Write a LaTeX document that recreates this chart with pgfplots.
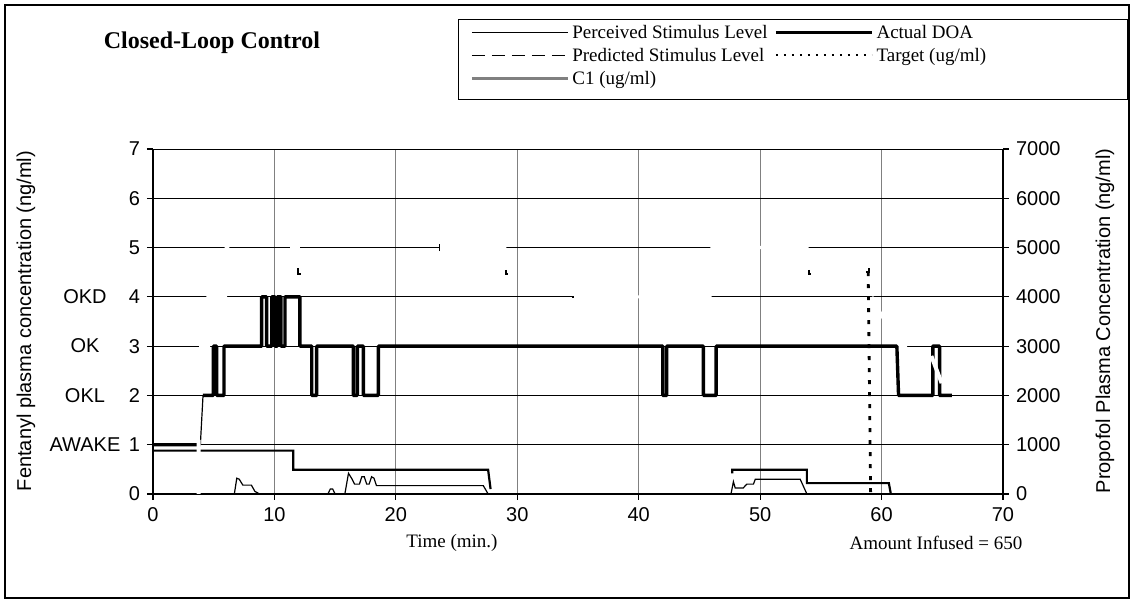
\documentclass[border=0pt]{standalone}
\usepackage{fontspec}
\setmainfont{Liberation Serif}
\newfontfamily\arial{Liberation Sans}
\usepackage{pgfplots}
\pgfplotsset{compat=1.18}

\definecolor{gridgray}{RGB}{128,128,128}

\begin{document}
\begin{tikzpicture}
% frame in image pixels (1px = 0.5pt), origin of axis at pixel (153,494)
\begin{scope}[x=0.5pt,y=-0.5pt,shift={(-76.5pt,247pt)}]
  \useasboundingbox (0,0) rectangle (1131,603);
\end{scope}

\begin{axis}[
  scale only axis, width=425pt, height=172.5pt,
  xmin=0, xmax=70, ymin=0, ymax=7,
  xtick={0,10,...,70}, ytick={0,1,...,7},
  axis x line*=bottom, axis y line*=left,
  x axis line style={-}, y axis line style={-},
  axis line style={black, line width=0.7pt},
  tick align=outside, major tick length=3pt,
  tick style={black, line width=0.6pt},
  xmajorgrids, ymajorgrids,
  x grid style={gridgray, line width=0.6pt},
  y grid style={black, line width=0.5pt},
  ticklabel style={font=\arial\fontsize{10}{12}\selectfont},
  /pgf/number format/assume math mode=true,
  unbounded coords=jump,
  legend columns=2, legend cell align=left,
  legend image code/.code={\draw[#1] (0pt,0.5pt) -- (48pt,0.5pt);},
  legend style={draw=none, fill=none, at={(0.3729,1.3623)}, anchor=north west,
    font=\fontsize{9.5}{11}\selectfont, inner sep=0pt, row sep=2.5pt,
    nodes={inner sep=0pt, text height=7pt, text depth=2pt},
    /tikz/every odd column/.append style={column sep=1.5pt}},
]
\addlegendimage{black, line width=0.6pt}
\addlegendentry{\makebox[101pt][l]{Perceived Stimulus Level}}
\addlegendimage{black, line width=1.6pt}
\addlegendentry{Actual DOA}
\addlegendimage{black, line width=0.8pt, dash pattern=on 6.5pt off 3.5pt}
\addlegendentry{\makebox[101pt][l]{Predicted Stimulus Level}}
\addlegendimage{black, line width=1pt, dash pattern=on 1.2pt off 2.8pt}
\addlegendentry{Target (ug/ml)}
\addlegendimage{gridgray, line width=1.5pt}
\addlegendentry{\makebox[101pt][l]{C1 (ug/ml)}}

% white traces that break the grid lines
\addplot[white, line width=1.6pt, forget plot] coordinates {
  (3.8,3) (4.7,3) (4.7,nan)
  (4.4,4) (6.1,4) (6.1,nan)
  (5.9,5) (6.3,5) (6.3,nan)
  (11.3,5) (12.1,5) (12.1,nan)
  (23.65,5) (29.1,5) (29.1,nan)
  (34.65,4) (46.0,4) (46.0,nan)
  (45.9,5) (54.0,5) (54.0,nan)
  (59.2,4) (61.35,3) (62.1,3)
};

% perceived stimulus level
\addplot[black, line width=0.6pt, forget plot] coordinates {
  (3.9,0) (6.7,0) (6.9,0.32) (7.1,0.3) (7.4,0.18) (8.1,0.18) (8.4,0.05) (8.8,0)
  (14.4,0) (14.6,0.1) (14.8,0.1) (15.0,0) (15.8,0) (16.1,0.42) (16.4,0.3)
  (16.6,0.2) (17.0,0.2) (17.2,0.35) (17.4,0.35) (17.6,0.2) (17.8,0.2)
  (18.0,0.35) (18.2,0.32) (18.4,0.17) (27.2,0.17) (27.6,0)
  (47.6,0) (47.8,0.25) (47.95,0.12) (48.6,0.12) (48.9,0.2) (49.45,0.2)
  (49.6,0.3) (53.3,0.3) (53.85,0) (66,0)
};

% stepped level
\addplot[black, line width=1.1pt, forget plot] coordinates {
  (0,0.88) (11.55,0.88) (11.55,0.49) (27.6,0.49) (27.8,0.1) (27.8,nan)
  (47.7,0.42) (47.7,0.49) (53.85,0.49) (53.85,0.22) (60.6,0.22) (60.75,0.02)
};

% actual DOA
\addplot[black, line width=1.7pt, line join=round, forget plot] coordinates {
  (0,1) (3.9,1) (3.9,nan)
  (4.1,2) (4.97,2) (4.97,3) (5.24,3) (5.24,2) (5.85,2) (5.85,3)
  (8.95,3) (8.95,4) (9.36,4) (9.36,3) (9.78,3) (9.78,4) (10.05,4) (10.05,3)
  (10.24,3) (10.24,4) (10.54,4) (10.54,3) (10.87,3) (10.87,4) (12.1,4)
  (12.1,3) (13.07,3) (13.07,2) (13.48,2) (13.48,3) (16.5,3) (16.5,2)
  (16.83,2) (16.83,3) (17.33,3) (17.33,2) (18.56,2) (18.56,3) (41.98,3)
  (41.98,2) (42.3,2) (42.3,3) (45.33,3) (45.33,2) (46.38,2) (46.38,3)
  (61.26,3) (61.4,2) (64.22,2) (64.22,3) (64.78,3) (64.78,2) (65.8,2)
};
\addplot[black, line width=0.6pt, forget plot] coordinates {(3.9,1) (4.12,2)};

% target
\addplot[black, line width=1.4pt, dash pattern=on 2pt off 4pt, forget plot]
  coordinates {(58.9,4.5) (59.1,0)};

% small marks
\addplot[black, line width=1pt, forget plot] coordinates {
  (11.95,4.58) (11.95,4.47) (12.15,4.47) (12.15,nan)
  (29.05,4.55) (29.05,4.47) (29.25,4.47) (29.25,nan)
  (34.5,4.0) (34.7,4.0) (34.7,nan)
  (54.0,4.55) (54.0,4.47) (54.2,4.47) (54.2,nan)
  (58.7,4.5) (58.95,4.5) (58.95,4.58)
};
\addplot[black, line width=0.6pt, forget plot] coordinates {(23.6,4.93) (23.6,5.07)};

% white traces over the lines
\addplot[white, line width=2pt, forget plot] coordinates {
  (3.75,-0.05) (3.75,1.1) (3.75,nan)
  (64.1,2.8) (64.95,2.25)
};
\end{axis}

\begin{axis}[
  scale only axis, width=425pt, height=172.5pt,
  xmin=0, xmax=70, ymin=0, ymax=7000,
  axis x line=none, axis y line*=right,
  y axis line style={-}, axis line style={black, line width=0.7pt},
  ytick={0,1000,...,7000}, scaled y ticks=false,
  yticklabel={\pgfmathprintnumber[fixed,precision=0,1000 sep={}]{\tick}},
  tick align=outside, major tick length=3pt,
  tick style={black, line width=0.6pt},
  ticklabel style={font=\arial\fontsize{10}{12}\selectfont},
  /pgf/number format/assume math mode=true,
]
\addplot[draw=none, forget plot] coordinates {(0,0) (70,7000)};
\end{axis}

\begin{scope}[x=0.5pt,y=-0.5pt,shift={(-76.5pt,247pt)}]
  \draw[black, line width=0.6pt] (5,5) rectangle (1129,598);
  \draw[black, line width=0.5pt] (458,20) rectangle (1127,100);
  \node[font=\bfseries\fontsize{12}{14}\selectfont] at (212,43) {Closed-Loop Control};
  \node[rotate=90, font=\arial\fontsize{10}{12}\selectfont] at (26,321)
    {Fentanyl plasma concentration (ng/ml)};
  \node[rotate=90, font=\arial\fontsize{10}{12}\selectfont] at (1105,321)
    {Propofol Plasma Concentration (ng/ml)};
  \node[font=\fontsize{9.5}{11}\selectfont] at (452,543) {Time (min.)};
  \node[font=\fontsize{9.5}{11}\selectfont] at (936,543) {Amount Infused = 650};
  \begin{scope}[every node/.style={font=\arial\fontsize{10}{12}\selectfont}]
    \node at (85,296.9) {OKD};
    \node at (85,346.1) {OK};
    \node at (85,395.4) {OKL};
    \node at (85,444.7) {AWAKE};
  \end{scope}
\end{scope}
\end{tikzpicture}
\end{document}
